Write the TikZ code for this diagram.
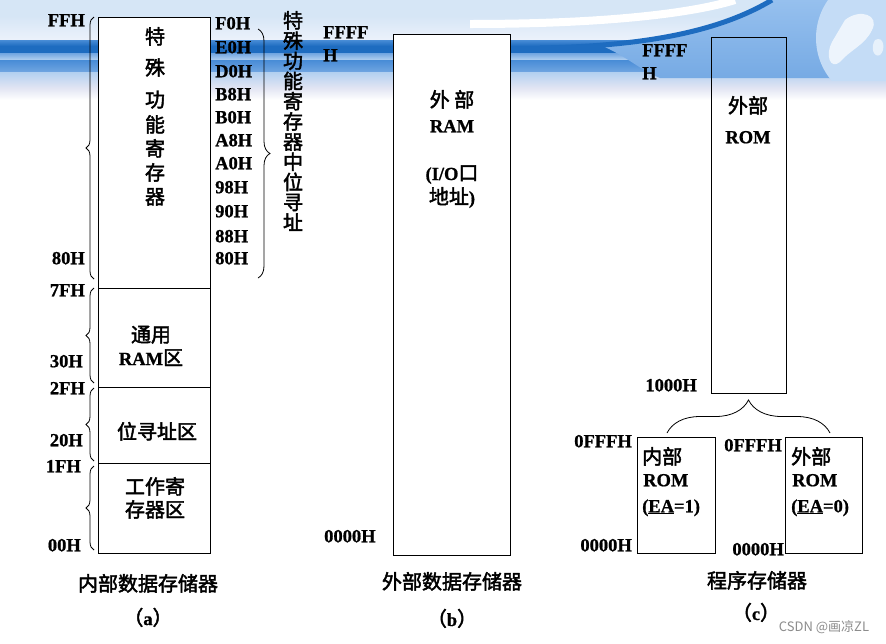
\documentclass[tikz,border=0pt]{standalone}
\usepackage{fontspec}
\setmainfont{Liberation Serif}[BoldFeatures={FakeBold=0.8}]
\newfontfamily\cjk{Noto Sans CJK SC}[FakeBold=2.2]
\newfontfamily\wmfont{Noto Sans CJK SC}
\usetikzlibrary{decorations.pathreplacing}
\newcommand\LT{\rmfamily\bfseries\fontsize{18.5}{22}\selectfont}
\newcommand\CK{\fontsize{20}{24}\selectfont\cjk}
\definecolor{bgA}{RGB}{214,230,246}
\definecolor{bgB}{RGB}{236,242,251}
\definecolor{bgDark}{RGB}{30,108,192}
\definecolor{bgMid}{RGB}{112,165,225}
\definecolor{bgMid2}{RGB}{72,140,214}
\definecolor{bgLight}{RGB}{178,208,240}
\definecolor{bgLav}{RGB}{226,229,243}
\definecolor{bgRight}{RGB}{150,192,238}
\definecolor{bgRight2}{RGB}{118,170,228}
\definecolor{globe}{RGB}{196,220,246}
\tikzset{
  lab/.style={inner sep=0pt, font=\LT, text height=12.5pt, text depth=0pt},
  ck/.style={inner sep=0pt, font=\CK, text height=17pt, text depth=3pt},
  memb/.style={draw=black, line width=0.9pt, inner sep=0pt, anchor=north west},
  brc/.style={decorate, decoration={brace, amplitude=#1}, line width=0.8pt},
}
\begin{document}
\begin{tikzpicture}[x=1pt,y=-1pt]
\useasboundingbox (0,0) rectangle (886,643);
% ---------- background (slide header) ----------
\fill[white] (0,0) rectangle (886,643);
\fill[bgA] (0,0) rectangle (886,16);
\shade[top color=bgA, bottom color=bgB] (0,16) rectangle (886,40);
\shade[top color=bgMid2, bottom color=bgDark] (0,40) rectangle (886,46);
\fill[bgDark] (0,46) rectangle (886,53);
\shade[top color=bgMid, bottom color=bgLight] (0,53) rectangle (886,60);
\shade[top color=bgMid2, bottom color=bgMid] (0,60) rectangle (886,72);
\shade[top color=bgLight, bottom color=bgLav] (0,72) rectangle (886,88);
\shade[top color=bgLav, bottom color=white] (0,88) rectangle (886,100);
% right swoosh
\shade[top color=bgRight, bottom color=bgRight2]
  (600,45) .. controls (680,42) and (730,26) .. (772,0) -- (886,0) -- (886,78)
  -- (660,78) .. controls (640,70) and (625,55) .. (600,45) -- cycle;
\begin{scope}
  \clip (700,0) rectangle (886,80);
  \fill[globe] (882,38) circle (66);
  \fill[white, opacity=0.7] (845,20) .. controls (860,8) and (880,15) .. (872,30)
     .. controls (865,45) and (850,50) .. (840,62) .. controls (830,70) and (825,55) .. (832,42) -- cycle;
  \fill[white, opacity=0.6] (875,40) .. controls (884,35) and (886,50) .. (880,55) .. controls (874,58) and (870,48) .. (875,40) -- cycle;
\end{scope}
\draw[white, line width=8pt] (470,24) .. controls (600,24) and (690,14) .. (735,0);
\draw[bgDark, line width=5pt] (540,48) .. controls (650,46) and (722,30) .. (772,0);
% ---------- (a) internal data memory ----------
\node[memb, fill=white, minimum width=112pt, minimum height=271pt] (sfr) at (98,17) {};
\node[memb, fill=white, minimum width=112pt, minimum height=99pt] (gram) at (98,288) {};
\node[memb, fill=white, minimum width=112pt, minimum height=76pt] (bitz) at (98,387) {};
\node[memb, fill=white, minimum width=112pt, minimum height=90pt] (wreg) at (98,463) {};
\node[ck] (s1) at (155,37) {特};
\node[ck] (s2) at (155,68) {殊};
\node[ck] (s3) at (155,100) {功};
\node[ck] (s4) at (155,125) {能};
\node[ck] (s5) at (155,149) {寄};
\node[ck] (s6) at (155,173) {存};
\node[ck] (s7) at (155,197) {器};
\node[ck] (g1) at (151,335) {通用};
\node[ck] (g2) at (151,358) {{\LT RAM}区};
\node[ck] (bz) at (157,432) {位寻址区};
\node[ck] (w1) at (155,487) {工作寄};
\node[ck] (w2) at (155,510) {存器区};
\node[ck] (ta) at (148,584) {内部数据存储器};
\node[ck] (ca) at (148,618) {（{\LT a}）};
% left address labels
\node[lab, anchor=east] (FFH) at (85,20) {FFH};
\node[lab, anchor=east] (L80) at (85,258) {80H};
\node[lab, anchor=east] (L7F) at (85,290) {7FH};
\node[lab, anchor=east] (L30) at (83,361) {30H};
\node[lab, anchor=east] (L2F) at (85,388) {2FH};
\node[lab, anchor=east] (L20) at (83,440) {20H};
\node[lab, anchor=east] (L1F) at (81,466) {1FH};
\node[lab, anchor=east] (L00) at (81,545) {00H};
% right bit-addressable labels
\foreach \t/\yy in {F0H/23,E0H/47,D0H/71,B8H/94,B0H/117,A8H/140,A0H/163,98H/187,90H/211,88H/236,80H/258}
  \node[lab, anchor=west] (r\t) at (215,\yy) {\t};
% braces
\coordinate (ba1) at (94,279); \coordinate (ba2) at (94,17);
\coordinate (bb1) at (94,383); \coordinate (bb2) at (94,288);
\coordinate (bc1) at (94,461); \coordinate (bc2) at (94,388);
\coordinate (bd1) at (94,550); \coordinate (bd2) at (94,466);
\draw[brc=8pt] (ba1) -- (ba2);
\draw[brc=8pt] (bb1) -- (bb2);
\draw[brc=8pt] (bc1) -- (bc2);
\draw[brc=8pt] (bd1) -- (bd2);
\coordinate (br1) at (258,29); \coordinate (br2) at (258,278);
\draw[brc=12pt] (br1) -- (br2);
\node[inner sep=0pt, font=\fontsize{20}{20.2}\selectfont\cjk, align=center] (vt) at (293,121)
  {特\\殊\\功\\能\\寄\\存\\器\\中\\位\\寻\\址};
% ---------- (b) external data memory ----------
\node[memb, fill=white, minimum width=117pt, minimum height=521pt] (xram) at (393,34) {};
\node[lab, anchor=west] (bF) at (323,32) {FFFF};
\node[lab, anchor=west] (bH) at (323,55) {H};
\node[lab, anchor=west] (b0) at (324,536) {0000H};
\node[ck] (x1) at (452,100) {外 部};
\node[lab] (x2) at (452,126) {RAM};
\node[ck] (x3) at (452,173) {{\LT (I/O}口};
\node[ck] (x4) at (452,197) {地址{\LT )}};
\node[ck] (tb) at (452,582) {外部数据存储器};
\node[ck] (cb) at (452,619) {（{\LT b}）};
% ---------- (c) program memory ----------
\node[memb, minimum width=75pt, minimum height=356pt] (xrom) at (711,37) {};
\node[lab, anchor=west] (cF) at (642,50) {FFFF};
\node[lab, anchor=west] (cH) at (642,73) {H};
\node[ck] (y1) at (748,106) {外部};
\node[lab] (y2) at (748,137) {ROM};
\node[lab, anchor=east] (c1000) at (697,385) {1000H};
\coordinate (bx1) at (667,433); \coordinate (bx2) at (830,433);
\draw[brc=33pt] (bx1) -- (bx2);
\node[memb, fill=white, minimum width=78pt, minimum height=116pt] (irom) at (637,437) {};
\node[memb, fill=white, minimum width=77pt, minimum height=116pt] (erom) at (785,437) {};
\node[lab, anchor=east] (i0F) at (632,441) {0FFFH};
\node[lab, anchor=east] (i00) at (632,545) {0000H};
\node[lab, anchor=east] (e0F) at (782,445) {0FFFH};
\node[lab, anchor=east] (e00) at (784,549) {0000H};
\node[ck, anchor=west] (i1) at (642,457) {内部};
\node[lab, anchor=west] (i2) at (643,480) {ROM};
\node[lab, anchor=west] (i3) at (642,506) {(\underline{EA}=1)};
\node[ck, anchor=west] (e1) at (791,457) {外部};
\node[lab, anchor=west] (e2) at (792,480) {ROM};
\node[lab, anchor=west] (e3) at (791,506) {(\underline{EA}=0)};
\node[ck] (tc) at (757,581) {程序存储器};
\node[ck] (cc) at (756,613) {（{\LT c}）};
% watermark
\node[inner sep=0pt, font=\fontsize{13}{15}\selectfont\wmfont, text=black!45] (wm) at (824,627) {CSDN @画凉ZL};
\end{tikzpicture}
\end{document}
